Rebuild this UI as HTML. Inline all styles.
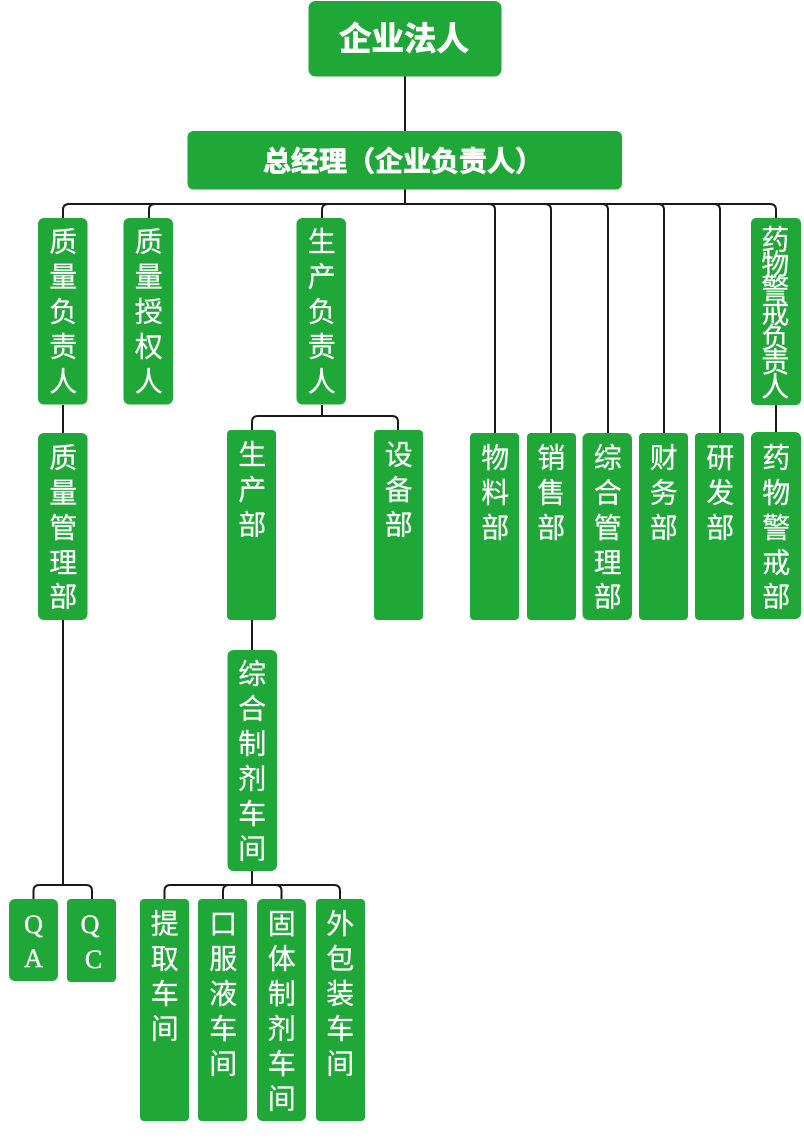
<!DOCTYPE html>
<html lang="zh-CN"><head><meta charset="utf-8"><title>组织架构图</title>
<style>
html,body{margin:0;padding:0;background:#fff;width:804px;height:1146px;overflow:hidden}
svg{display:block}
text{font-family:"Liberation Sans","Noto Sans CJK SC",sans-serif;fill:#fff;stroke:#fff;stroke-width:.25px;text-anchor:middle;font-size:28px}
.b{font-weight:700;text-anchor:start;stroke-width:.8px}
.s{font-family:"Liberation Serif","Noto Serif CJK SC",serif;font-size:26px;stroke-width:.4px}
rect{fill:#1fa838}
path{fill:none;stroke:#1a1a1a;stroke-width:2}
</style></head><body>
<svg width="804" height="1146" viewBox="0 0 804 1146" xmlns="http://www.w3.org/2000/svg">
<path d="M405 76V204"/>
<path d="M63 218V210Q63 204 69 204H770Q776 204 776 210V218"/>
<path d="M149 218V210Q149 204 155 204"/>
<path d="M322 218V210Q322 204 328 204"/>
<path d="M489 204Q495 204 495 210V433"/>
<path d="M545 204Q551 204 551 210V433"/>
<path d="M602 204Q608 204 608 210V433"/>
<path d="M658 204Q664 204 664 210V433"/>
<path d="M714 204Q720 204 720 210V433"/>
<path d="M776 405V432"/>
<path d="M63 405V433"/>
<path d="M63 620V885"/>
<path d="M33.500 899V891Q33.500 885 39.500 885H86Q92 885 92 891V899"/>
<path d="M322 405V416"/>
<path d="M252 430V422Q252 416 258 416H392Q398 416 398 422V430"/>
<path d="M252 620V650"/>
<path d="M252 871V885"/>
<path d="M164.500 899V891Q164.500 885 170.500 885H334Q340 885 340 891V899"/>
<path d="M223 899V891Q223 885 229 885"/>
<path d="M275.500 885Q281.500 885 281.500 891V899"/>

<rect x="308.500" y="1" width="193" height="75.500" rx="7"/>
<rect x="187.500" y="131" width="434.500" height="58.500" rx="6"/>
<rect x="38" y="218" width="49.500" height="186.500" rx="6"/>
<rect x="123.500" y="218" width="49.500" height="186.500" rx="6"/>
<rect x="296.500" y="218" width="49.500" height="186.500" rx="6"/>
<rect x="751" y="218" width="50" height="187" rx="5"/>
<rect x="38" y="433" width="49.500" height="187" rx="6"/>
<rect x="227" y="430" width="49" height="190" rx="4"/>
<rect x="374" y="430" width="49" height="190" rx="4"/>
<rect x="470" y="433" width="49" height="187" rx="4"/>
<rect x="527" y="433" width="49" height="187" rx="4"/>
<rect x="582.500" y="433" width="49.500" height="187" rx="6"/>
<rect x="639" y="433" width="49" height="187" rx="4"/>
<rect x="695" y="433" width="49" height="187" rx="4"/>
<rect x="751" y="432" width="50" height="187" rx="6"/>
<rect x="227.500" y="650" width="49.500" height="221" rx="6"/>
<rect x="9" y="899" width="49" height="82" rx="6"/>
<rect x="67" y="899" width="49" height="83" rx="4"/>
<rect x="140" y="899" width="49" height="222" rx="4"/>
<rect x="198" y="899" width="49" height="222" rx="4"/>
<rect x="257" y="899" width="49" height="222" rx="6"/>
<rect x="316" y="899" width="49" height="222" rx="4"/>

<text class="b" x="339" y="50" style="font-size:32.500px">企业法人</text>
<text class="b" x="263" y="171" style="font-size:28px">总经理（企业负责人）</text>

<g transform="translate(.3 .7)">
<text x="63" y="251">质</text><text x="63" y="286">量</text><text x="63" y="321">负</text><text x="63" y="356">责</text><text x="63" y="391">人</text>
<text x="148.500" y="251">质</text><text x="148.500" y="286">量</text><text x="148.500" y="321">授</text><text x="148.500" y="356">权</text><text x="148.500" y="391">人</text>
<text x="321.500" y="251">生</text><text x="321.500" y="286">产</text><text x="321.500" y="321">负</text><text x="321.500" y="356">责</text><text x="321.500" y="391">人</text>
<text x="775" y="249">药</text><text x="775" y="273.500">物</text><text x="775" y="298">警</text><text x="775" y="322.500">戒</text><text x="775" y="347">负</text><text x="775" y="371.500">责</text><text x="775" y="396">人</text>

<text x="63" y="467">质</text><text x="63" y="502">量</text><text x="63" y="537">管</text><text x="63" y="572">理</text><text x="63" y="606">部</text>
<text x="252" y="464">生</text><text x="252" y="499">产</text><text x="252" y="534">部</text>
<text x="398.500" y="464">设</text><text x="398.500" y="499">备</text><text x="398.500" y="534">部</text>
<text x="495" y="467">物</text><text x="495" y="502">料</text><text x="495" y="537">部</text>
<text x="551" y="467">销</text><text x="551" y="502">售</text><text x="551" y="537">部</text>
<text x="607.500" y="467">综</text><text x="607.500" y="502">合</text><text x="607.500" y="537">管</text><text x="607.500" y="572">理</text><text x="607.500" y="606">部</text>
<text x="663.500" y="467">财</text><text x="663.500" y="502">务</text><text x="663.500" y="537">部</text>
<text x="720" y="467">研</text><text x="720" y="502">发</text><text x="720" y="537">部</text>
<text x="776" y="467">药</text><text x="776" y="502">物</text><text x="776" y="537">警</text><text x="776" y="572">戒</text><text x="776" y="606">部</text>

<text x="252" y="683">综</text><text x="252" y="718">合</text><text x="252" y="753">制</text><text x="252" y="788">剂</text><text x="252" y="823">车</text><text x="252" y="858">间</text>

<text x="164.500" y="933">提</text><text x="164.500" y="968">取</text><text x="164.500" y="1003">车</text><text x="164.500" y="1038">间</text>
<text x="223" y="933">口</text><text x="223" y="968">服</text><text x="223" y="1003">液</text><text x="223" y="1038">车</text><text x="223" y="1073">间</text>
<text x="281.500" y="933">固</text><text x="281.500" y="968">体</text><text x="281.500" y="1003">制</text><text x="281.500" y="1038">剂</text><text x="281.500" y="1073">车</text><text x="281.500" y="1108">间</text>
<text x="340" y="933">外</text><text x="340" y="968">包</text><text x="340" y="1003">装</text><text x="340" y="1038">车</text><text x="340" y="1073">间</text>
</g>
<text class="s" x="33.500" y="933">Q</text><text class="s" x="33.500" y="967">A</text>
<text class="s" x="90" y="933">Q</text><text class="s" x="93.500" y="968">C</text>
</svg>
</body></html>
